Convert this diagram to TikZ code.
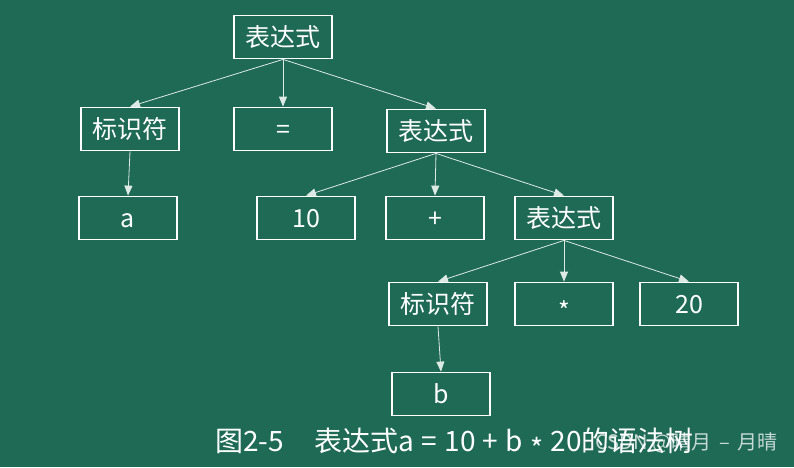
\documentclass[tikz,border=0pt]{standalone}
\usepackage{fontspec}
\setmainfont{Noto Sans CJK SC}
\usetikzlibrary{arrows.meta,positioning}
\definecolor{boardgreen}{HTML}{1E6A55}
\newcommand\capgap{\hspace{0.26em}}
\newcommand\midstar{\raisebox{-0.28em}{*}}

\begin{document}
\begin{tikzpicture}[x=1pt,y=-1pt,
  treebox/.style={rectangle, draw=white, line width=1.8pt, minimum width=98pt,
    minimum height=43pt, inner sep=0pt, text=white, text height=22pt, text depth=3pt,
    font=\fontsize{25}{29}\selectfont},
  arr/.style={-{Triangle[width=8pt,length=10pt]}, draw=white!85!boardgreen, line width=0.8pt},
]
  \fill[boardgreen] (0,0) rectangle (794,467);

  % level 0
  \node[treebox] (root) at (283,37) {表达式};
  % level 1
  \node[treebox] (id1) at (130,129) {标识符};
  \node[treebox] (eq) at (283,129) {=};
  \node[treebox] (expr1) at (436,131) {表达式};
  % level 2
  \node[treebox] (a) at (128,218) {a};
  \node[treebox] (n10) at (306,218) {10};
  \node[treebox] (plus) at (435,218) {+};
  \node[treebox] (expr2) at (564,218) {表达式};
  % level 3
  \node[treebox] (id2) at (438,304) {标识符};
  \node[treebox] (times) at (564,304) {\midstar};
  \node[treebox] (n20) at (689,304) {20};
  % level 4
  \node[treebox] (b) at (441,394) {b};

  \draw[arr] (root.south) -- (id1.north);
  \draw[arr] (root.south) -- (eq.north);
  \draw[arr] (root.south) -- (expr1.north);
  \draw[arr] (id1.south) -- (a.north);
  \draw[arr] (expr1.south) -- (n10.north);
  \draw[arr] (expr1.south) -- (plus.north);
  \draw[arr] (expr1.south) -- (expr2.north);
  \draw[arr] (expr2.south) -- (id2.north);
  \draw[arr] (expr2.south) -- (times.north);
  \draw[arr] (expr2.south) -- (n20.north);
  \draw[arr] (id2.south) -- (b.north);

  \node[anchor=west, text=white, font=\fontsize{28}{32}\selectfont, inner sep=0pt]
    (caption) at (215,444) {图2-5\hspace{1.1em}表达式a\capgap=\capgap10\capgap+\capgap b\capgap\midstar\capgap20的语法树};
  \node[anchor=east, text=white, opacity=0.75, font=\fontsize{20}{24}\selectfont, inner sep=0pt]
    (mark) at (778,443) {CSDN @晴月\hspace{0.4em}–\hspace{0.4em}月晴};
\end{tikzpicture}
\end{document}
